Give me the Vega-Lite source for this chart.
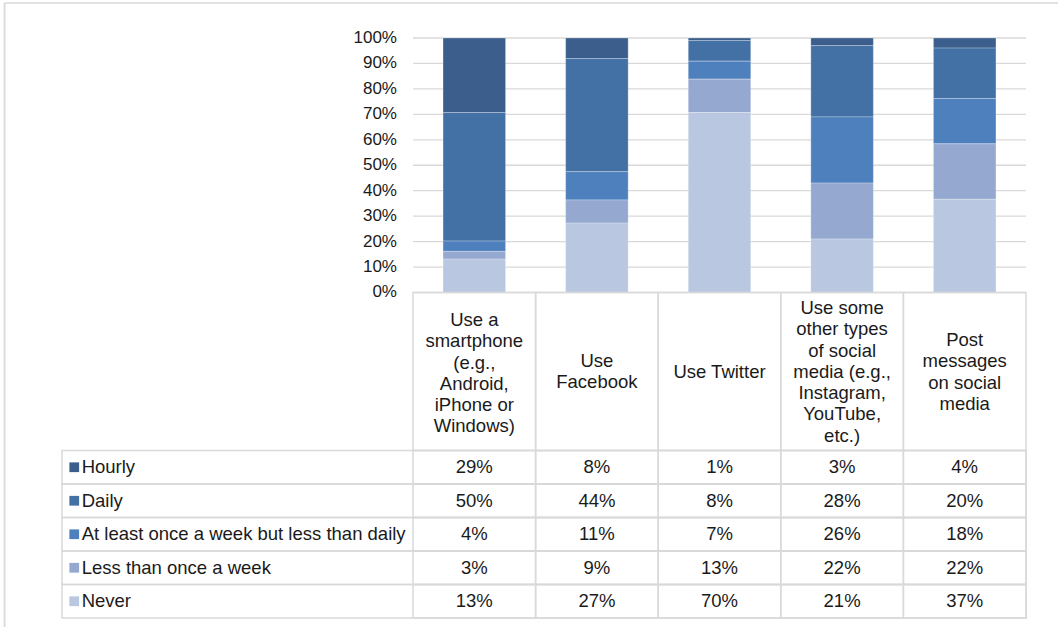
{
  "$schema": "https://vega.github.io/schema/vega-lite/v6.json",
  "width": 964,
  "height": 580,
  "autosize": {"type": "none"},
  "padding": {"left": 62, "top": 38, "right": 32, "bottom": 9},
  "background": "white",
  "config": {"view": {"stroke": null}, "font": "Liberation Sans"},
  "datasets": {
    "vals": [
      {"cat": "Use a\nsmartphone\n(e.g.,\nAndroid,\niPhone or\nWindows)", "series": "Hourly", "k": 5, "v": 0.29},
      {"cat": "Use a\nsmartphone\n(e.g.,\nAndroid,\niPhone or\nWindows)", "series": "Daily", "k": 4, "v": 0.50},
      {"cat": "Use a\nsmartphone\n(e.g.,\nAndroid,\niPhone or\nWindows)", "series": "At least once a week but less than daily", "k": 3, "v": 0.04},
      {"cat": "Use a\nsmartphone\n(e.g.,\nAndroid,\niPhone or\nWindows)", "series": "Less than once a week", "k": 2, "v": 0.03},
      {"cat": "Use a\nsmartphone\n(e.g.,\nAndroid,\niPhone or\nWindows)", "series": "Never", "k": 1, "v": 0.13},
      {"cat": "Use\nFacebook", "series": "Hourly", "k": 5, "v": 0.08},
      {"cat": "Use\nFacebook", "series": "Daily", "k": 4, "v": 0.44},
      {"cat": "Use\nFacebook", "series": "At least once a week but less than daily", "k": 3, "v": 0.11},
      {"cat": "Use\nFacebook", "series": "Less than once a week", "k": 2, "v": 0.09},
      {"cat": "Use\nFacebook", "series": "Never", "k": 1, "v": 0.27},
      {"cat": "Use Twitter", "series": "Hourly", "k": 5, "v": 0.01},
      {"cat": "Use Twitter", "series": "Daily", "k": 4, "v": 0.08},
      {"cat": "Use Twitter", "series": "At least once a week but less than daily", "k": 3, "v": 0.07},
      {"cat": "Use Twitter", "series": "Less than once a week", "k": 2, "v": 0.13},
      {"cat": "Use Twitter", "series": "Never", "k": 1, "v": 0.70},
      {"cat": "Use some\nother types\nof social\nmedia (e.g.,\nInstagram,\nYouTube,\netc.)", "series": "Hourly", "k": 5, "v": 0.03},
      {"cat": "Use some\nother types\nof social\nmedia (e.g.,\nInstagram,\nYouTube,\netc.)", "series": "Daily", "k": 4, "v": 0.28},
      {"cat": "Use some\nother types\nof social\nmedia (e.g.,\nInstagram,\nYouTube,\netc.)", "series": "At least once a week but less than daily", "k": 3, "v": 0.26},
      {"cat": "Use some\nother types\nof social\nmedia (e.g.,\nInstagram,\nYouTube,\netc.)", "series": "Less than once a week", "k": 2, "v": 0.22},
      {"cat": "Use some\nother types\nof social\nmedia (e.g.,\nInstagram,\nYouTube,\netc.)", "series": "Never", "k": 1, "v": 0.21},
      {"cat": "Post\nmessages\non social\nmedia", "series": "Hourly", "k": 5, "v": 0.04},
      {"cat": "Post\nmessages\non social\nmedia", "series": "Daily", "k": 4, "v": 0.20},
      {"cat": "Post\nmessages\non social\nmedia", "series": "At least once a week but less than daily", "k": 3, "v": 0.18},
      {"cat": "Post\nmessages\non social\nmedia", "series": "Less than once a week", "k": 2, "v": 0.22},
      {"cat": "Post\nmessages\non social\nmedia", "series": "Never", "k": 1, "v": 0.37}
    ],
    "cats": [
      {"cat": "Use a\nsmartphone\n(e.g.,\nAndroid,\niPhone or\nWindows)"},
      {"cat": "Use\nFacebook"},
      {"cat": "Use Twitter"},
      {"cat": "Use some\nother types\nof social\nmedia (e.g.,\nInstagram,\nYouTube,\netc.)"},
      {"cat": "Post\nmessages\non social\nmedia"}
    ],
    "rows": [
      {"series": "Hourly"},
      {"series": "Daily"},
      {"series": "At least once a week but less than daily"},
      {"series": "Less than once a week"},
      {"series": "Never"}
    ],
    "grid": [
      {"t": 0}, {"t": 0.1}, {"t": 0.2}, {"t": 0.3}, {"t": 0.4}, {"t": 0.5},
      {"t": 0.6}, {"t": 0.7}, {"t": 0.8}, {"t": 0.9}, {"t": 1}
    ],
    "one": [{}]
  },
  "resolve": {"scale": {"x": "independent", "y": "independent"}},
  "layer": [
    {
      "layer": [
        {
          "data": {"name": "grid"},
          "mark": {"type": "rule", "color": "#D9D9D9", "strokeWidth": 1.3},
          "encoding": {
            "x": {"datum": 0.3641, "scale": {"domain": [0, 1], "nice": false, "zero": false}, "axis": null},
            "x2": {"datum": 1},
            "y": {"field": "t", "type": "quantitative", "scale": {"domain": [-1.279, 1], "nice": false, "zero": false}, "axis": null}
          }
        },
        {
          "data": {"name": "grid"},
          "mark": {"type": "text", "align": "right", "baseline": "middle", "dx": -16, "fontSize": 17, "color": "#1a1a1a", "font": "Liberation Sans"},
          "encoding": {
            "x": {"datum": 0.3641},
            "y": {"field": "t", "type": "quantitative"},
            "text": {"field": "t", "type": "quantitative", "format": ".0%"}
          }
        },
        {
          "data": {"name": "one"},
          "mark": {"type": "rule", "color": "#D9D9D9", "strokeWidth": 1.5},
          "encoding": {
            "x": {"datum": -0.0596},
            "x2": {"datum": 1.2},
            "y": {"datum": 1.1375}
          }
        },
        {
          "data": {"name": "one"},
          "mark": {"type": "rule", "color": "#D9D9D9", "strokeWidth": 1.8},
          "encoding": {
            "x": {"datum": -0.0596},
            "y": {"datum": 1.1375},
            "y2": {"datum": -1.6}
          }
        }
      ]
    },
    {
      "layer": [
        {
          "data": {"name": "vals"},
          "mark": {"type": "bar", "width": {"band": 0.51}, "stroke": "white", "strokeWidth": 0.6, "strokeOpacity": 0.45},
          "encoding": {
            "x": {
              "field": "cat", "type": "nominal", "axis": null,
              "scale": {
                "domain": [
                  "Use a\nsmartphone\n(e.g.,\nAndroid,\niPhone or\nWindows)",
                  "Use\nFacebook",
                  "Use Twitter",
                  "Use some\nother types\nof social\nmedia (e.g.,\nInstagram,\nYouTube,\netc.)",
                  "Post\nmessages\non social\nmedia"
                ],
                "paddingInner": 0, "paddingOuter": 0, "range": [351, 964]
              }
            },
            "y": {
              "field": "v", "type": "quantitative", "stack": "normalize",
              "scale": {"domain": [-1.279, 1], "nice": false, "zero": false},
              "axis": null
            },
            "order": {"field": "k", "type": "quantitative", "sort": "ascending"},
            "color": {
              "field": "series", "type": "nominal",
              "scale": {
                "domain": ["Never", "Less than once a week", "At least once a week but less than daily", "Daily", "Hourly"],
                "range": ["#B9C7E1", "#94A8D0", "#4E80BD", "#4471A5", "#3B5E8C"]
              },
              "legend": null
            }
          }
        },
        {
          "data": {"name": "cats"},
          "mark": {"type": "rect", "filled": false, "stroke": "#D9D9D9", "strokeWidth": 1.5},
          "encoding": {
            "x": {"field": "cat", "type": "nominal"},
            "y": {"datum": 0},
            "y2": {"datum": -0.6208}
          }
        },
        {
          "data": {"name": "cats"},
          "transform": [{"filter": "datum.cat === 'Use a\\nsmartphone\\n(e.g.,\\nAndroid,\\niPhone or\\nWindows)'"}],
          "mark": {"type": "text", "lineBreak": "\n", "fontSize": 18.5, "lineHeight": 21.3, "baseline": "middle", "align": "center", "color": "#1a1a1a", "font": "Liberation Sans"},
          "encoding": {"x": {"field": "cat", "type": "nominal"}, "y": {"datum": -0.108}, "text": {"field": "cat"}}
        },
        {
          "data": {"name": "cats"},
          "transform": [{"filter": "datum.cat === 'Use\\nFacebook'"}],
          "mark": {"type": "text", "lineBreak": "\n", "fontSize": 18.5, "lineHeight": 21.3, "baseline": "middle", "align": "center", "color": "#1a1a1a", "font": "Liberation Sans"},
          "encoding": {"x": {"field": "cat", "type": "nominal"}, "y": {"datum": -0.2692}, "text": {"field": "cat"}}
        },
        {
          "data": {"name": "cats"},
          "transform": [{"filter": "datum.cat === 'Use Twitter'"}],
          "mark": {"type": "text", "lineBreak": "\n", "fontSize": 18.5, "lineHeight": 21.3, "baseline": "middle", "align": "center", "color": "#1a1a1a", "font": "Liberation Sans"},
          "encoding": {"x": {"field": "cat", "type": "nominal"}, "y": {"datum": -0.3124}, "text": {"field": "cat"}}
        },
        {
          "data": {"name": "cats"},
          "transform": [{"filter": "datum.cat === 'Use some\\nother types\\nof social\\nmedia (e.g.,\\nInstagram,\\nYouTube,\\netc.)'"}],
          "mark": {"type": "text", "lineBreak": "\n", "fontSize": 18.5, "lineHeight": 21.3, "baseline": "middle", "align": "center", "color": "#1a1a1a", "font": "Liberation Sans"},
          "encoding": {"x": {"field": "cat", "type": "nominal"}, "y": {"datum": -0.0609}, "text": {"field": "cat"}}
        },
        {
          "data": {"name": "cats"},
          "transform": [{"filter": "datum.cat === 'Post\\nmessages\\non social\\nmedia'"}],
          "mark": {"type": "text", "lineBreak": "\n", "fontSize": 18.5, "lineHeight": 21.3, "baseline": "middle", "align": "center", "color": "#1a1a1a", "font": "Liberation Sans"},
          "encoding": {"x": {"field": "cat", "type": "nominal"}, "y": {"datum": -0.1866}, "text": {"field": "cat"}}
        }
      ]
    },
    {
      "data": {"name": "vals"},
      "layer": [
        {
          "mark": {"type": "rect", "filled": false, "stroke": "#D9D9D9", "strokeWidth": 1.5},
          "encoding": {
            "x": {
              "field": "cat", "type": "nominal", "axis": null,
              "scale": {
                "domain": [
                  "Use a\nsmartphone\n(e.g.,\nAndroid,\niPhone or\nWindows)",
                  "Use\nFacebook",
                  "Use Twitter",
                  "Use some\nother types\nof social\nmedia (e.g.,\nInstagram,\nYouTube,\netc.)",
                  "Post\nmessages\non social\nmedia"
                ],
                "paddingInner": 0, "paddingOuter": 0, "range": [351, 964]
              }
            },
            "y": {
              "field": "series", "type": "nominal", "axis": null,
              "scale": {
                "domain": ["Hourly", "Daily", "At least once a week but less than daily", "Less than once a week", "Never"],
                "paddingInner": 0, "paddingOuter": 0, "range": [412.5, 580]
              }
            }
          }
        },
        {
          "mark": {"type": "text", "fontSize": 18.5, "baseline": "middle", "align": "center", "color": "#1a1a1a", "font": "Liberation Sans"},
          "encoding": {
            "x": {"field": "cat", "type": "nominal"},
            "y": {"field": "series", "type": "nominal"},
            "text": {"field": "v", "type": "quantitative", "format": ".0%"}
          }
        }
      ]
    },
    {
      "data": {"name": "rows"},
      "layer": [
        {
          "mark": {"type": "rect", "filled": false, "stroke": "#D9D9D9", "strokeWidth": 1.5},
          "encoding": {
            "x": {"datum": 0, "scale": {"domain": [0, 1], "nice": false, "zero": false}, "axis": null},
            "x2": {"datum": 1},
            "y": {
              "field": "series", "type": "nominal", "axis": null,
              "scale": {
                "domain": ["Hourly", "Daily", "At least once a week but less than daily", "Less than once a week", "Never"],
                "paddingInner": 0, "paddingOuter": 0, "range": [412.5, 580]
              }
            }
          }
        },
        {
          "mark": {"type": "point", "shape": "square", "filled": true, "size": 95, "opacity": 1},
          "encoding": {
            "x": {"datum": 0.0127},
            "y": {"field": "series", "type": "nominal"},
            "color": {
              "field": "series", "type": "nominal",
              "scale": {
                "domain": ["Never", "Less than once a week", "At least once a week but less than daily", "Daily", "Hourly"],
                "range": ["#B9C7E1", "#94A8D0", "#4E80BD", "#4471A5", "#3B5E8C"]
              },
              "legend": null
            }
          }
        },
        {
          "mark": {"type": "text", "fontSize": 18.5, "baseline": "middle", "align": "left", "color": "#1a1a1a", "font": "Liberation Sans"},
          "encoding": {
            "x": {"datum": 0.0204},
            "y": {"field": "series", "type": "nominal"},
            "text": {"field": "series"}
          }
        }
      ]
    }
  ]
}
